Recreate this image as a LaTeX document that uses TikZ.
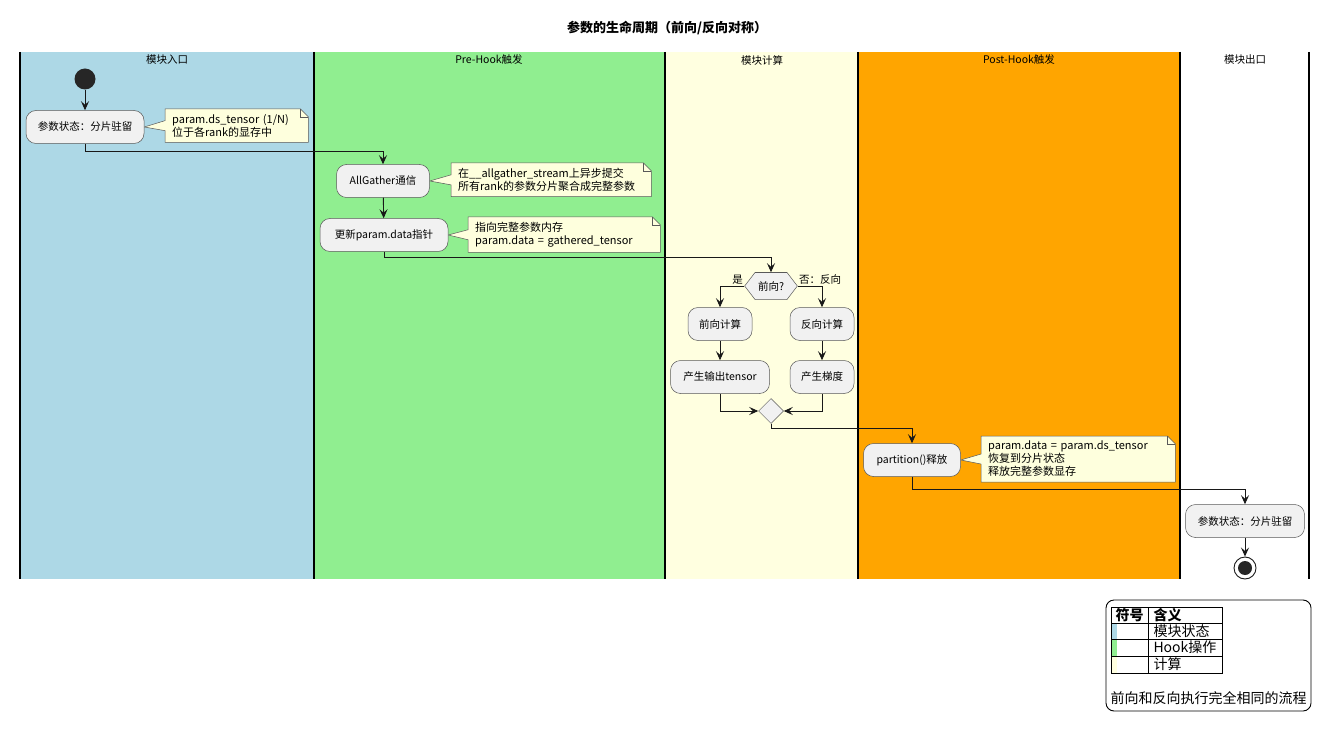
\documentclass[tikz,border=0pt]{standalone}
\usepackage{fontspec}
\setmainfont{Noto Sans CJK SC}
\usetikzlibrary{arrows.meta,shapes.geometric,shapes.symbols}

\definecolor{laneblue}{HTML}{ADD8E6}
\definecolor{lanegreen}{HTML}{90EE90}
\definecolor{laneyellow}{HTML}{FFFFE0}
\definecolor{laneorange}{HTML}{FFA500}
\definecolor{actfill}{HTML}{F1F1F1}
\definecolor{notefill}{HTML}{FEFFDD}
\definecolor{edgegray}{HTML}{181818}

\pgfdeclarelayer{lanes}
\pgfdeclarelayer{frames}
\pgfsetlayers{lanes,frames,main}

\tikzset{
  flow/.style={draw=edgegray, line width=0.9pt, -{Stealth[length=9pt,width=8pt,inset=3.5pt]}},
  action/.style={draw=black!65, fill=actfill, line width=0.5pt, rounded corners=10pt,
    minimum height=33pt, inner xsep=6pt, font=\fontsize{10.5}{12}\selectfont},
  note/.style={anchor=north west, align=left, inner xsep=7pt, inner ysep=5pt,
    font=\fontsize{11}{13}\selectfont},
  noteline/.style={draw=black!65, fill=notefill, line width=0.5pt},
  lanetitle/.style={font=\fontsize{10.5}{12}\selectfont},
  swim/.style={line width=1.3pt},
  decide/.style={signal, signal to=west and east, signal pointer angle=105, draw=black!65,
    fill=actfill, line width=0.5pt, minimum height=27pt, inner xsep=3pt,
    font=\fontsize{10.5}{12}\selectfont},
  merge/.style={diamond, draw=black!65, fill=actfill, line width=0.5pt, minimum size=25pt, inner sep=0pt},
  legtext/.style={anchor=west, font=\fontsize{14}{16}\selectfont}
}

% note outline with pointer to the action
\newcommand{\noteframe}[2]{%
  \begin{pgfonlayer}{frames}
    \draw[noteline] (#1.north west) -- ([xshift=-8pt]#1.north east)
      -- ([yshift=-8pt]#1.north east) -- (#1.south east) -- (#1.south west)
      -- ([yshift=-5pt]#1.west) -- (#2.east) -- ([yshift=5pt]#1.west) -- cycle;
    \draw[noteline, fill=none] ([xshift=-8pt]#1.north east) |- ([yshift=-8pt]#1.north east);
  \end{pgfonlayer}}

\begin{document}
\begin{tikzpicture}[x=1pt, y=-1pt]
  \useasboundingbox (0,0) rectangle (1335,735);
  % Title
  \node[font=\fontsize{13}{15}\selectfont\bfseries] (title) at (667,28) {参数的生命周期（前向/反向对称）};

  % Swimlanes
  \begin{pgfonlayer}{lanes}
    \fill[laneblue] (20,52) rectangle (314,579);
    \fill[lanegreen] (314,52) rectangle (665,579);
    \fill[laneyellow] (665,52) rectangle (858,579);
    \fill[laneorange] (858,52) rectangle (1180,579);
    \foreach \xx in {20,314,665,858,1180,1309}
      \draw[swim] (\xx,52) -- (\xx,579);
  \end{pgfonlayer}
  \node[lanetitle] (t1) at (167,60) {模块入口};
  \node[lanetitle] (t2) at (489,60) {Pre-Hook触发};
  \node[lanetitle] (t3) at (762,60) {模块计算};
  \node[lanetitle] (t4) at (1019,60) {Post-Hook触发};
  \node[lanetitle] (t5) at (1245,60) {模块出口};

  % Entry lane
  \node[circle, fill=black!85, minimum size=21pt, inner sep=0pt] (start) at (85,79) {};
  \node[action, minimum width=118pt] (shard1) at (85,127) {参数状态：分片驻留};
  \node[note, text width=129pt] (n1) at (165,109) {param.ds\_tensor (1/N)\\位于各rank的显存中};
  \noteframe{n1}{shard1}

  % Pre-Hook lane
  \node[action, minimum width=93pt] (gather) at (383,181) {AllGather通信};
  \node[note, text width=186pt] (n2) at (451,163) {在\_\_allgather\_stream上异步提交\\所有rank的参数分片聚合成完整参数};
  \noteframe{n2}{gather}
  \node[action, minimum width=128pt] (update) at (384,235) {更新param.data指针};
  \node[note, text width=178pt] (n3) at (468,217) {指向完整参数内存\\param.data = gathered\_tensor};
  \noteframe{n3}{update}

  % Compute lane
  \node[decide] (dir) at (771,286) {前向?};
  \node[action, minimum width=64pt] (fwd) at (720,324) {前向计算};
  \node[action, minimum width=99pt] (out) at (720,377) {产生输出tensor};
  \node[action, minimum width=64pt] (bwd) at (822,324) {反向计算};
  \node[action, minimum width=64pt] (grad) at (822,377) {产生梯度};
  \node[merge] (join) at (771,411) {};

  % Post-Hook lane
  \node[action, minimum width=97pt] (part) at (912,460) {partition()释放};
  \node[note, text width=180pt] (n4) at (981,436) {param.data = param.ds\_tensor\\恢复到分片状态\\释放完整参数显存};
  \noteframe{n4}{part}

  % Exit lane
  \node[action, minimum width=119pt] (shard2) at (1245,521) {参数状态：分片驻留};
  \node[circle, draw=edgegray, line width=0.9pt, fill=white, minimum size=22pt, inner sep=0pt] (stop) at (1245,568) {};
  \fill[black!85] (stop) circle (7pt);

  % Flow
  \draw[flow] (start) -- (shard1);
  \draw[flow] (shard1.south) -- ++(0,8) -| (gather.north);
  \draw[flow] (gather) -- (update);
  \draw[flow] (update.south) -- ++(0,6) -| (dir.north);
  \draw[flow] (dir.west) -| (fwd.north) node[pos=0, above left, inner sep=1pt, font=\fontsize{10.5}{12}\selectfont] {是};
  \draw[flow] (dir.east) -| (bwd.north) node[pos=0, above right, inner sep=1pt, font=\fontsize{10.5}{12}\selectfont] {否：反向};
  \draw[flow] (fwd) -- (out);
  \draw[flow] (bwd) -- (grad);
  \draw[flow] (out.south) |- (join.west);
  \draw[flow] (grad.south) |- (join.east);
  \draw[flow] (join.south) -- ++(0,5) -| (part.north);
  \draw[flow] (part.south) -- ++(0,13) -| (shard2.north);
  \draw[flow] (shard2) -- (stop);

  % Legend
  \draw[line width=0.9pt, rounded corners=8pt] (1106,600) rectangle (1311,711);
  \fill[laneblue] (1112,624) rectangle (1117,639);
  \fill[lanegreen] (1112,640) rectangle (1117,656);
  \fill[laneyellow] (1112,657) rectangle (1117,673);
  \draw[line width=0.8pt] (1111,607) rectangle (1222,673);
  \foreach \yy in {623,639,656}
    \draw[line width=0.8pt] (1111,\yy) -- (1222,\yy);
  \draw[line width=0.8pt] (1148,607) -- (1148,673);
  \node[legtext, font=\fontsize{14}{16}\selectfont\bfseries] (lh1) at (1112,615) {符号};
  \node[legtext, font=\fontsize{14}{16}\selectfont\bfseries] (lh2) at (1150,615) {含义};
  \node[legtext] (l1) at (1150,631) {模块状态};
  \node[legtext] (l2) at (1150,647) {Hook操作};
  \node[legtext] (l3) at (1150,664) {计算};
  \node[legtext] (lnote) at (1107,698) {前向和反向执行完全相同的流程};
\end{tikzpicture}
\end{document}
